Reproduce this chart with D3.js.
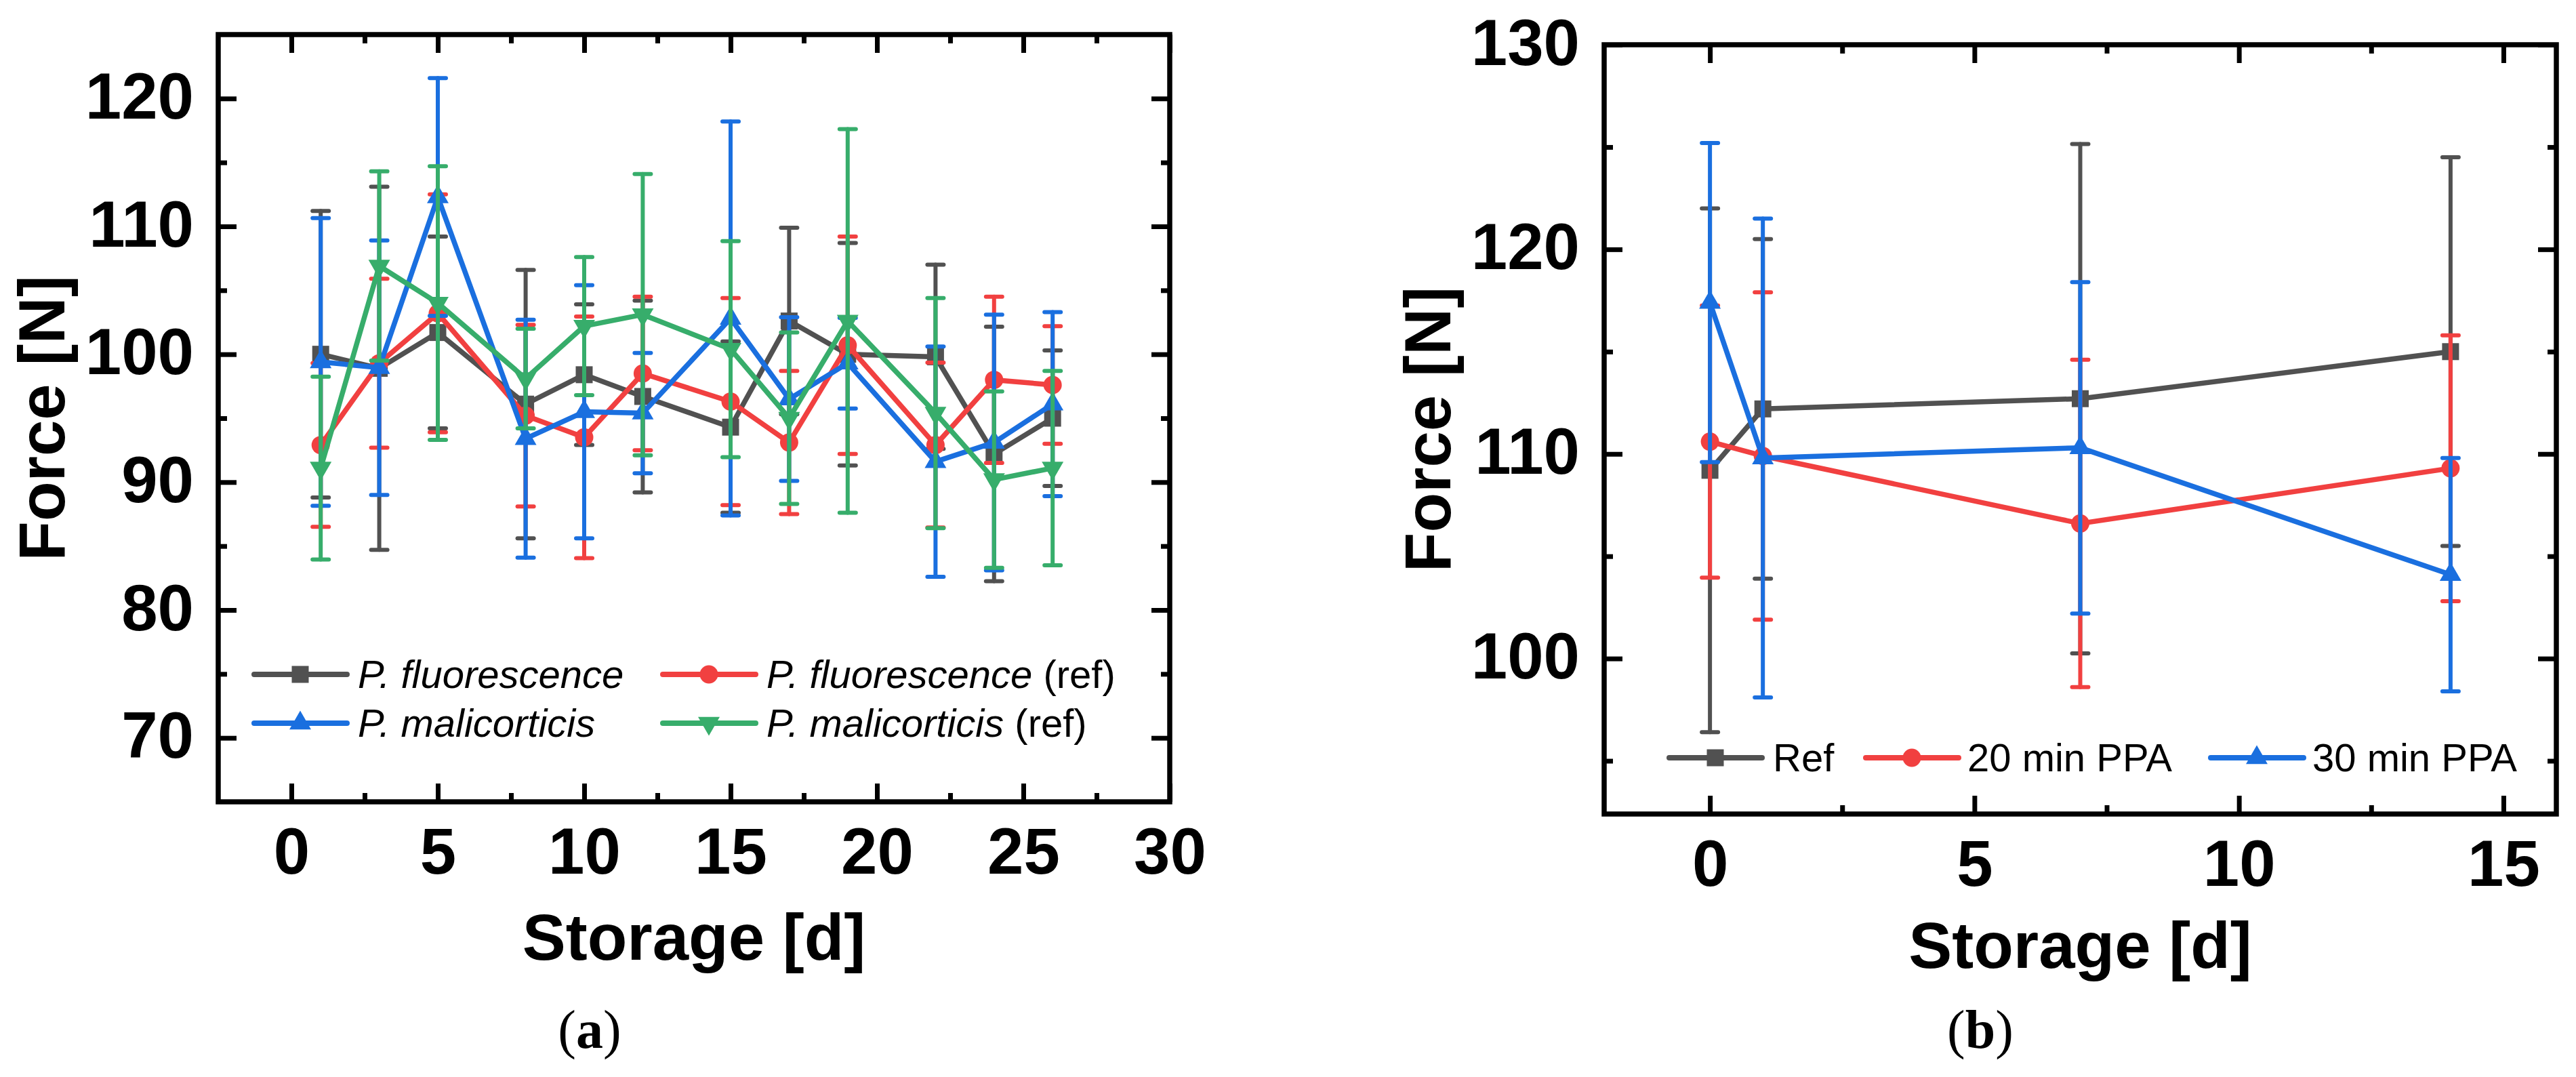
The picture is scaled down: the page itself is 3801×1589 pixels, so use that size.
<!DOCTYPE html>
<html>
<head>
<meta charset="utf-8">
<script src="https://cdn.jsdelivr.net/npm/d3@7"></script>
<style>
  body { margin: 0; background: #fff; }
  svg { display: block; }
  .ax text { font-family: "Liberation Sans", Arial, sans-serif; font-weight: bold; font-size: 96px; fill: #000; }
  .title { font-family: "Liberation Sans", Arial, sans-serif; font-weight: bold; font-size: 96px; fill: #000; }
  .leg { font-family: "Liberation Sans", Arial, sans-serif; font-size: 58px; fill: #000; }
  .plabel { font-family: "Liberation Serif", "Times New Roman", serif; font-size: 80px; fill: #000; }
</style>
</head>
<body>
<svg id="fig" width="3801" height="1589"></svg>
<script>
// panel (a): storage days and force values
var daysA = [1, 3, 5, 8, 10, 12, 15, 17, 19, 22, 24, 26];
var fluo      = [100.0, 98.9, 101.7, 96.1, 98.4, 96.7, 94.3, 102.6, 100.0, 99.8, 92.2, 95.0];
var fluoSd    = [11.2, 14.2, 7.5, 10.5, 5.5, 7.5, 6.7, 7.3, 8.7, 7.2, 9.95, 5.3];
var fluoRef   = [92.9, 99.3, 103.2, 95.2, 93.5, 98.5, 96.3, 93.1, 100.7, 92.9, 98.0, 97.6];
var fluoRefSd = [6.4, 6.6, 9.3, 7.1, 9.45, 6.0, 8.1, 5.6, 8.5, 6.45, 6.5, 4.6];
var mali      = [99.4, 98.95, 112.3, 93.4, 95.5, 95.4, 102.8, 96.5, 99.3, 91.6, 93.1, 96.1];
var maliSd    = [11.25, 9.95, 9.3, 9.3, 9.9, 4.7, 15.4, 6.4, 3.55, 9.0, 10.0, 7.2];
var maliRef   = [91.1, 106.9, 104.0, 98.1, 102.2, 103.1, 100.4, 95.0, 102.6, 95.4, 90.2, 91.1];
var maliRefSd = [7.15, 7.4, 10.7, 3.9, 5.4, 11.0, 8.45, 6.7, 15.0, 9.0, 6.9, 7.6];

// panel (b)
var daysB = [0, 1, 7, 14];
var ref    = [109.2, 112.2, 112.7, 115.0];
var refSd  = [12.8, 8.3, 12.45, 9.5];
var ppa20   = [110.6, 109.9, 106.6, 109.3];
var ppa20Sd = [6.65, 8.0, 8.0, 6.5];
var ppa30   = [117.4, 109.8, 110.3, 104.1];
var ppa30Sd = [7.8, 11.7, 8.1, 5.7];

// ticks
var xMajorA = [0, 5, 10, 15, 20, 25, 30];
var xMinorA = [2.5, 7.5, 12.5, 17.5, 22.5, 27.5];
var yMajorA = [70, 80, 90, 100, 110, 120];
var yMinorA = [75, 85, 95, 105, 115];
var xMajorB = [0, 5, 10, 15];
var xMinorB = [2.5, 7.5, 12.5];
var yMajorB = [100, 110, 120, 130];
var yMinorB = [95, 105, 115, 125];

var gray = "#515151", red = "#F14040", blue = "#1A6FDF", green = "#37AD6B";

var svg = d3.select("#fig");
svg.append("rect").attr("width", 3801).attr("height", 1589).attr("fill", "#fff");

var symbolOf = {
  square: { type: d3.symbolSquare, size: 625, rot: 0 },
  circle: { type: d3.symbolCircle, size: 572, rot: 0 },
  up:     { type: d3.symbolTriangle, size: 443, rot: 0 },
  down:   { type: d3.symbolTriangle, size: 443, rot: 180 }
};

function drawPanel(p) {
  var x = d3.scaleLinear().domain(p.xDomain).range([p.left, p.right]);
  var y = d3.scaleLinear().domain(p.yDomain).range([p.bottom, p.top]);
  var g = svg.append("g");

  // axes: ticks inward on all four sides, labels bottom/left only
  var sides = [
    { gen: d3.axisBottom(x), tr: "translate(0," + p.bottom + ")", lab: true },
    { gen: d3.axisTop(x), tr: "translate(0," + p.top + ")", lab: false },
    { gen: d3.axisLeft(y), tr: "translate(" + p.left + ",0)", lab: true },
    { gen: d3.axisRight(y), tr: "translate(" + p.right + ",0)", lab: false }
  ];
  sides.forEach(function(s, i) {
    var horiz = i < 2;
    var major = horiz ? p.xMajor : p.yMajor;
    var minor = horiz ? p.xMinor : p.yMinor;
    var a = s.gen.tickValues(major).tickSizeInner(-27).tickSizeOuter(0)
      .tickPadding(horiz ? 38 : 36);
    if (!s.lab) a.tickFormat("");
    var ga = g.append("g").attr("class", "ax").attr("transform", s.tr).call(a);
    ga.select(".domain").remove();
    ga.selectAll("line").attr("stroke", "#000").attr("stroke-width", 7);
    if (!horiz) ga.selectAll("text").attr("dy", null).attr("y", 29);

    var gm = g.append("g").attr("transform", s.tr)
      .call(s.gen.tickValues(minor).tickSizeInner(-13).tickFormat(""));
    gm.select(".domain").remove();
    gm.selectAll("line").attr("stroke", "#000").attr("stroke-width", 7);
  })

  g.append("rect")
    .attr("x", p.left).attr("y", p.top)
    .attr("width", p.right - p.left).attr("height", p.bottom - p.top)
    .attr("fill", "none").attr("stroke", "#000").attr("stroke-width", 7.5);

  // series: error bars, line, symbols
  p.series.forEach(function(s) {
    var pts = p.days.map(function(d, i) { return { x: d, v: s.mean[i], e: s.sd[i] } });
    var sg = g.append("g");
    var eb = sg.selectAll(".eb").data(pts).enter().append("g")
      .attr("stroke", s.color).attr("stroke-width", 6).attr("stroke-linecap", "round");
    eb.append("line")
      .attr("x1", function(d) { return x(d.x) }).attr("x2", function(d) { return x(d.x) })
      .attr("y1", function(d) { return y(d.v - d.e) }).attr("y2", function(d) { return y(d.v + d.e) });
    [-1, 1].forEach(function(k) {
      eb.append("line")
        .attr("x1", function(d) { return x(d.x) - 12 }).attr("x2", function(d) { return x(d.x) + 12 })
        .attr("y1", function(d) { return y(d.v + k * d.e) }).attr("y2", function(d) { return y(d.v + k * d.e) });
    })
    sg.append("path").datum(pts)
      .attr("fill", "none").attr("stroke", s.color).attr("stroke-width", 7.5)
      .attr("stroke-linejoin", "round")
      .attr("d", d3.line().x(function(d) { return x(d.x) }).y(function(d) { return y(d.v) }));
    var sym = symbolOf[s.symbol];
    sg.selectAll(".pt").data(pts).enter().append("path")
      .attr("fill", s.color)
      .attr("transform", function(d) { return "translate(" + x(d.x) + "," + y(d.v) + ") rotate(" + sym.rot + ")" })
      .attr("d", d3.symbol().type(sym.type).size(sym.size));
  })

  // legend
  p.legend.forEach(function(L, i) {
    var s = p.series[i];
    var sym = symbolOf[s.symbol];
    var lg = g.append("g");
    lg.append("line")
      .attr("x1", L.x).attr("x2", L.x + 137).attr("y1", L.y).attr("y2", L.y)
      .attr("stroke", s.color).attr("stroke-width", 8).attr("stroke-linecap", "round");
    lg.append("path")
      .attr("fill", s.color)
      .attr("transform", "translate(" + (L.x + 68) + "," + L.y + ") rotate(" + sym.rot + ")")
      .attr("d", d3.symbol().type(sym.type).size(sym.size));
    var t = lg.append("text").attr("class", "leg").attr("x", L.x + L.dx).attr("y", L.y + 20);
    s.label.forEach(function(part) {
      t.append("tspan").attr("font-style", part[1] ? "italic" : "normal").text(part[0]);
    })
  })

  svg.append("text").attr("class", "title").attr("text-anchor", "middle")
    .attr("x", (p.left + p.right) / 2).attr("y", p.xTitleY).text("Storage [d]");
  svg.append("text").attr("class", "title").attr("text-anchor", "middle")
    .attr("transform", "translate(" + p.yTitleX + "," + (p.top + p.bottom) / 2 + ") rotate(-90)")
    .text("Force [N]");
  var pl = svg.append("text").attr("class", "plabel").attr("text-anchor", "middle")
    .attr("x", p.labelX).attr("y", 1546);
  pl.append("tspan").text("(");
  pl.append("tspan").attr("font-weight", "bold").text(p.name);
  pl.append("tspan").text(")");
}

drawPanel({
  name: "a",
  left: 322, right: 1726, top: 51, bottom: 1183,
  xDomain: [-2.5, 30], yDomain: [65, 125],
  xMajor: xMajorA, xMinor: xMinorA, yMajor: yMajorA, yMinor: yMinorA,
  days: daysA,
  series: [
    { mean: fluo, sd: fluoSd, color: gray, symbol: "square", label: [["P. fluorescence", true]] },
    { mean: fluoRef, sd: fluoRefSd, color: red, symbol: "circle", label: [["P. fluorescence", true], [" (ref)", false]] },
    { mean: mali, sd: maliSd, color: blue, symbol: "up", label: [["P. malicorticis", true]] },
    { mean: maliRef, sd: maliRefSd, color: green, symbol: "down", label: [["P. malicorticis", true], [" (ref)", false]] }
  ],
  legend: [
    { x: 375, y: 995, dx: 153 }, { x: 978, y: 995, dx: 153 },
    { x: 375, y: 1067, dx: 153 }, { x: 978, y: 1067, dx: 153 }
  ],
  xTitleY: 1416, yTitleX: 95, labelX: 870
});

drawPanel({
  name: "b",
  left: 2367, right: 3772, top: 66, bottom: 1201,
  xDomain: [-2, 16], yDomain: [92.4, 130],
  xMajor: xMajorB, xMinor: xMinorB, yMajor: yMajorB, yMinor: yMinorB,
  days: daysB,
  series: [
    { mean: ref, sd: refSd, color: gray, symbol: "square", label: [["Ref", false]] },
    { mean: ppa20, sd: ppa20Sd, color: red, symbol: "circle", label: [["20 min PPA", false]] },
    { mean: ppa30, sd: ppa30Sd, color: blue, symbol: "up", label: [["30 min PPA", false]] }
  ],
  legend: [
    { x: 2463, y: 1118, dx: 153 }, { x: 2753, y: 1118, dx: 150 }, { x: 3262, y: 1118, dx: 150 }
  ],
  xTitleY: 1428, yTitleX: 2140, labelX: 2922
});
</script>
</body>
</html>
